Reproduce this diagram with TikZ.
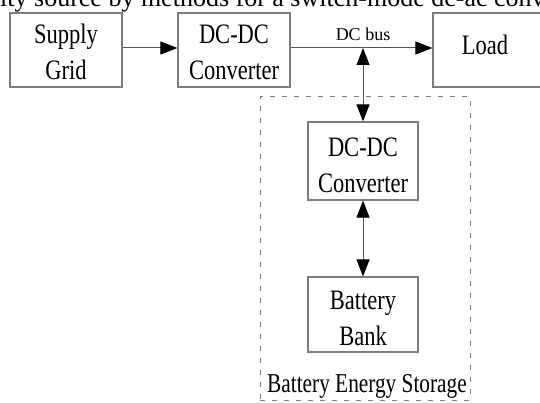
\documentclass[tikz,border=0pt]{standalone}
\usepackage{fontspec}
\setmainfont{Liberation Serif}
\usepackage{graphicx}
\usetikzlibrary{arrows.meta}
\definecolor{linegray}{RGB}{85,85,85}
\definecolor{boxgray}{RGB}{125,125,125}
\newcommand{\stretchtext}[1]{\scalebox{1}[1.25]{\begin{tabular}{@{}c@{}}#1\end{tabular}}}
\tikzset{
  blk/.style={draw=boxgray, line width=1.2pt, minimum width=112pt, minimum height=74pt, inner sep=0pt},
  blklabel/.style={font=\fontsize{22.5}{28.8}\selectfont, inner sep=0pt},
  conn/.style={draw=linegray, line width=1pt},
  storagebox/.style={draw=boxgray, line width=1pt, dash pattern=on 5pt off 7pt, inner sep=0pt}
}
\begin{document}
\begin{tikzpicture}[x=1pt, y=-1pt, >={Triangle[length=17pt,width=13pt,color=black]}]
\useasboundingbox (0,0) rectangle (540,403);
\clip (0,0) rectangle (540,403);
% clipped caption text at the top
\node[font=\fontsize{26}{28}\selectfont, anchor=base west, inner sep=0pt] (captxt) at (0,7) {ity source by methods for a switch-mode dc-ac converter};
% storage frame
\node[storagebox, minimum width=210pt, minimum height=303pt] (bes) at (365,248.5) {};
% blocks
\node[blk] (sg) at (66,50) {};
\node[blk] (dc1) at (234,50) {};
\node[blk] (load) at (489,50) {};
\node[blk, minimum width=110pt, minimum height=78pt] (dc2) at (363,161) {};
\node[blk, minimum width=110pt, minimum height=75pt] (bat) at (363,314.5) {};
% labels
\node[blklabel] (sgt) at (66,54.8) {\stretchtext{Supply\\Grid}};
\node[blklabel] (dc1t) at (234,54.8) {\stretchtext{DC-DC\\Converter}};
\node[blklabel, anchor=base] (loadt) at (485,55) {\scalebox{1}[1.25]{Load}};
\node[blklabel] (dc2t) at (363,167.8) {\stretchtext{DC-DC\\Converter}};
\node[blklabel] (batt) at (363,320) {\stretchtext{Battery\\Bank}};
\node[font=\fontsize{18}{20}\selectfont, anchor=base, inner sep=0pt] (bustxt) at (363,41) {DC bus};
\node[font=\fontsize{21.3}{24}\selectfont, anchor=base west, inner sep=0pt] (bestxt) at (267,392) {\scalebox{1}[1.28]{Battery Energy Storage}};
% connectors
\coordinate (busjoint) at (363,48);
\draw[conn, ->] ([yshift=2pt]sg.east) -- ([yshift=2pt]dc1.west);
\draw[conn, ->] ([yshift=2pt]dc1.east) -- ([yshift=2pt]load.west);
\draw[conn, <->] (busjoint) -- (dc2.north);
\draw[conn, <->] (dc2.south) -- (bat.north);
\end{tikzpicture}
\end{document}
